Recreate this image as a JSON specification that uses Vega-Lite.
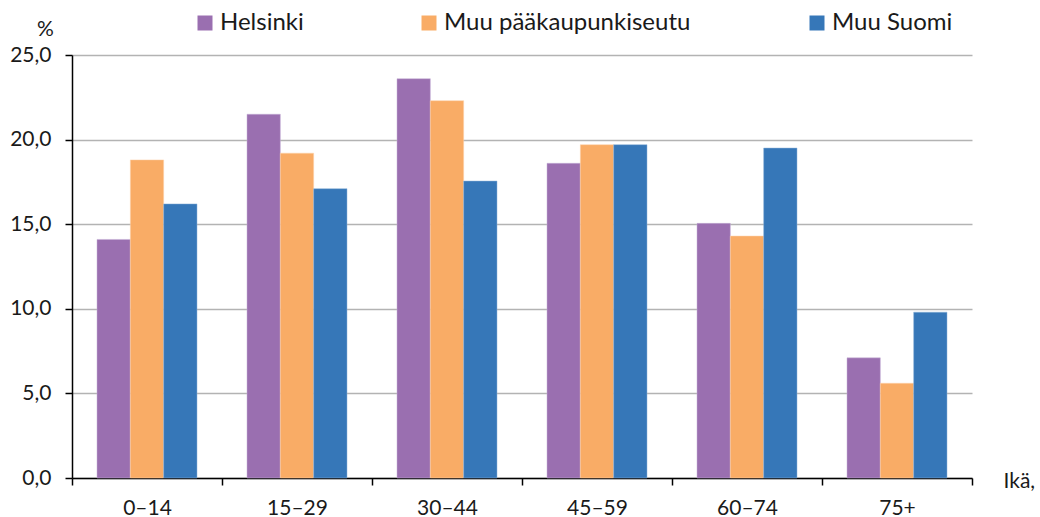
{
  "$schema": "https://vega.github.io/schema/vega-lite/v6.json",
  "width": 900,
  "height": 423,
  "autosize": {"type": "none"},
  "padding": {"left": 72, "top": 55, "right": 68, "bottom": 39},
  "background": "white",
  "data": {
    "values": [
      {"age": "0–14", "series": "Helsinki", "value": 14.1},
      {"age": "0–14", "series": "Muu pääkaupunkiseutu", "value": 18.8},
      {"age": "0–14", "series": "Muu Suomi", "value": 16.2},
      {"age": "15–29", "series": "Helsinki", "value": 21.5},
      {"age": "15–29", "series": "Muu pääkaupunkiseutu", "value": 19.2},
      {"age": "15–29", "series": "Muu Suomi", "value": 17.1},
      {"age": "30–44", "series": "Helsinki", "value": 23.6},
      {"age": "30–44", "series": "Muu pääkaupunkiseutu", "value": 22.3},
      {"age": "30–44", "series": "Muu Suomi", "value": 17.55},
      {"age": "45–59", "series": "Helsinki", "value": 18.6},
      {"age": "45–59", "series": "Muu pääkaupunkiseutu", "value": 19.7},
      {"age": "45–59", "series": "Muu Suomi", "value": 19.7},
      {"age": "60–74", "series": "Helsinki", "value": 15.05},
      {"age": "60–74", "series": "Muu pääkaupunkiseutu", "value": 14.3},
      {"age": "60–74", "series": "Muu Suomi", "value": 19.5},
      {"age": "75+", "series": "Helsinki", "value": 7.1},
      {"age": "75+", "series": "Muu pääkaupunkiseutu", "value": 5.6},
      {"age": "75+", "series": "Muu Suomi", "value": 9.8}
    ]
  },
  "encoding": {
    "x": {
      "field": "age",
      "type": "nominal",
      "sort": null,
      "scale": {"paddingInner": 0, "paddingOuter": 0},
      "axis": {
        "title": "Ikä,",
        "titleX": 931,
        "titleY": 9,
        "titleAlign": "left",
        "titleBaseline": "alphabetic",
        "titleAnchor": null,
        "labelAngle": 0,
        "tickBand": "extent",
        "tickSize": 7,
        "labelPadding": 12,
        "grid": false
      }
    },
    "xOffset": {
      "field": "series",
      "type": "nominal",
      "scale": {"domain": ["Helsinki", "Muu pääkaupunkiseutu", "Muu Suomi"], "paddingInner": 0, "paddingOuter": 0.75}
    },
    "y": {
      "field": "value",
      "type": "quantitative",
      "scale": {"domain": [0, 25], "nice": false},
      "axis": {
        "values": [0, 5, 10, 15, 20, 25],
        "labelExpr": "replace(format(datum.value, '.1f'), '.', ',')",
        "title": "%",
        "titleAngle": 0,
        "titleX": -27,
        "titleY": -20,
        "titleAlign": "center",
        "titleBaseline": "alphabetic",
        "tickSize": 7,
        "labelPadding": 14,
        "grid": true,
        "gridColor": "#b3b3b3",
        "gridWidth": 1.5
      }
    }
  },
  "layer": [
    {
      "transform": [{"filter": "datum.series === 'Helsinki'"}],
      "mark": {"type": "bar", "stroke": "#c7b3d6", "strokeWidth": 0.5},
      "encoding": {
        "color": {
          "field": "series",
          "type": "nominal",
          "scale": {"domain": ["Helsinki"], "range": ["#9a6fb0"]},
          "legend": {"orient": "none", "legendX": 121, "legendY": -44, "title": null}
        }
      }
    },
    {
      "transform": [{"filter": "datum.series === 'Muu pääkaupunkiseutu'"}],
      "mark": {"type": "bar", "stroke": "#fcd3ac", "strokeWidth": 0.5},
      "encoding": {
        "color": {
          "field": "series",
          "type": "nominal",
          "scale": {"domain": ["Muu pääkaupunkiseutu"], "range": ["#f9ac66"]},
          "legend": {"orient": "none", "legendX": 345, "legendY": -44, "title": null}
        }
      }
    },
    {
      "transform": [{"filter": "datum.series === 'Muu Suomi'"}],
      "mark": {"type": "bar", "stroke": "#8fb3d9", "strokeWidth": 0.5},
      "encoding": {
        "color": {
          "field": "series",
          "type": "nominal",
          "scale": {"domain": ["Muu Suomi"], "range": ["#3677b8"]},
          "legend": {"orient": "none", "legendX": 733, "legendY": -44, "title": null}
        }
      }
    }
  ],
  "resolve": {"scale": {"color": "independent"}, "legend": {"color": "independent"}},
  "config": {
    "font": "Lato",
    "view": {"stroke": null},
    "axis": {
      "labelFont": "Lato",
      "labelFontSize": 21,
      "labelColor": "#1a1a1a",
      "titleFont": "Lato",
      "titleFontSize": 21,
      "titleFontWeight": "normal",
      "titleColor": "#1a1a1a",
      "domainColor": "#000000",
      "domainWidth": 1.5,
      "tickColor": "#000000",
      "tickWidth": 1.5
    },
    "legend": {
      "padding": 0,
      "symbolType": "square",
      "symbolSize": 225,
      "symbolStrokeWidth": 0,
      "labelFont": "Lato",
      "labelFontSize": 24,
      "labelColor": "#1a1a1a",
      "labelOffset": 3,
      "labelLimit": 400
    }
  }
}
